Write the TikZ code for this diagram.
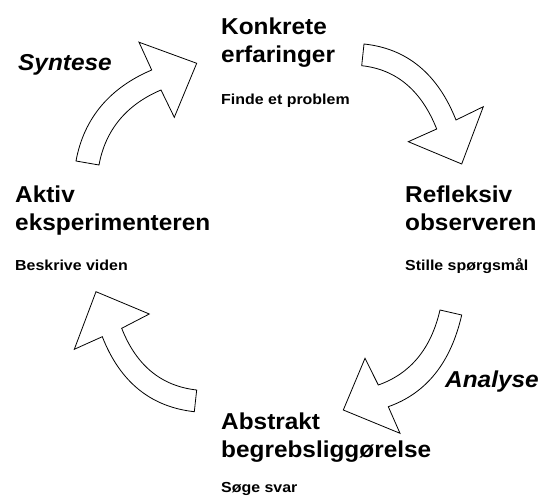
\documentclass[tikz,border=0pt]{standalone}
\usepackage{fontspec}
\setmainfont{Liberation Sans}
\newfontfamily\bigf{Liberation Sans}[FakeStretch=1.06]
\newfontfamily\smallf{Liberation Sans}[FakeStretch=1.1]
\begin{document}
\begin{tikzpicture}[x=1pt,y=-1pt,
  big/.style={inner sep=0pt, anchor=base west, align=left,
    font=\bigf\bfseries\fontsize{23}{28}\selectfont},
  phase/.style={inner sep=0pt, anchor=base west,
    font=\bigf\bfseries\itshape\fontsize{23}{28}\selectfont},
  small/.style={inner sep=0pt, anchor=base west,
    font=\smallf\bfseries\fontsize{14.5}{17}\selectfont},
  bigarrow/.style={draw=black, fill=white, line width=0.8pt, line join=miter}]
\useasboundingbox (0,0) rectangle (547,497);

% arrow 1 (Syntese, upper left)
\draw[bigarrow] (76,161) -- (99,165)
  .. controls (105.5,129.4) and (127,104.4) .. (161,90)
  -- (174.3,117.3) -- (196.7,63.3) -- (139,42.2) -- (151.7,70)
  .. controls (110.6,87.4) and (84,117.4) .. cycle;

% arrow 2 (upper right)
\draw[bigarrow] (364,44)
  .. controls (407,48.5) and (437.7,73.9) .. (456,120)
  -- (483.3,106.7) -- (461.7,164) -- (408.3,141.7) -- (436.7,129)
  .. controls (421.4,90.5) and (396.4,69.4) .. (361.7,65.7) -- cycle;

% arrow 3 (Analyse, lower right)
\draw[bigarrow] (440,310) -- (461.7,315)
  .. controls (450.8,362.7) and (426.3,393.3) .. (388.3,406.7)
  -- (400,433.3) -- (343.3,410) -- (365,358.3) -- (378.3,385)
  .. controls (410.6,373.6) and (431.1,348.6) .. cycle;

% arrow 4 (lower left)
\draw[bigarrow] (196.7,390)
  .. controls (161.3,386.1) and (136.3,365.5) .. (121.7,328.3)
  -- (149.3,314) -- (96,291.7) -- (74.3,349.3) -- (102.3,336.7)
  .. controls (120,381.9) and (150.7,406.9) .. (194.3,411.7) -- cycle;

% texts (base anchor = baseline of the last line)
\node[big] (konkrete) at (221,63) {Konkrete\\erfaringer};
\node[small] (finde) at (221,104.5) {Finde et problem};
\node[phase] (syntese) at (18,71) {Syntese};
\node[big] (refleksiv) at (405,231) {Refleksiv\\observeren};
\node[small] (stille) at (405,271) {Stille spørgsmål};
\node[phase] (analyse) at (445,388) {Analyse};
\node[big] (abstrakt) at (221,457) {Abstrakt\\begrebsliggørelse};
\node[small] (soege) at (221,493) {Søge svar};
\node[big] (aktiv) at (15,231) {Aktiv\\eksperimenteren};
\node[small] (beskrive) at (15,271) {Beskrive viden};
\end{tikzpicture}
\end{document}
